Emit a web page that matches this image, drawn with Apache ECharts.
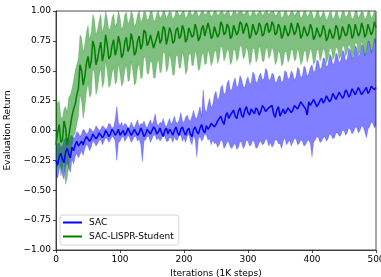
<!DOCTYPE html>
<html>
<head>
<meta charset="utf-8">
<script src="https://cdn.jsdelivr.net/npm/echarts@6/dist/echarts.min.js"></script>
<style>
html,body{margin:0;padding:0;background:#fff;}
#chart{width:381px;height:277px;}
</style>
</head>
<body>
<div id="chart"></div>
<script>
// Iterations (1K steps)
var iterations = [
0,2.5,5,7.5,10,12.5,15,17.5,20,22.5,
25,27.5,30,32.5,35,37.5,40,42.5,45,47.5,
50,52.5,55,57.5,60,62.5,65,67.5,70,72.5,
75,77.5,80,82.5,85,87.5,90,92.5,95,97.5,
100,102.5,105,107.5,110,112.5,115,117.5,120,122.5,
125,127.5,130,132.5,135,137.5,140,142.5,145,147.5,
150,152.5,155,157.5,160,162.5,165,167.5,170,172.5,
175,177.5,180,182.5,185,187.5,190,192.5,195,197.5,
200,202.5,205,207.5,210,212.5,215,217.5,220,222.5,
225,227.5,230,232.5,235,237.5,240,242.5,245,247.5,
250,252.5,255,257.5,260,262.5,265,267.5,270,272.5,
275,277.5,280,282.5,285,287.5,290,292.5,295,297.5,
300,302.5,305,307.5,310,312.5,315,317.5,320,322.5,
325,327.5,330,332.5,335,337.5,340,342.5,345,347.5,
350,352.5,355,357.5,360,362.5,365,367.5,370,372.5,
375,377.5,380,382.5,385,387.5,390,392.5,395,397.5,
400,402.5,405,407.5,410,412.5,415,417.5,420,422.5,
425,427.5,430,432.5,435,437.5,440,442.5,445,447.5,
450,452.5,455,457.5,460,462.5,465,467.5,470,472.5,
475,477.5,480,482.5,485,487.5,490,492.5,495,497.5,
500];

var sacMean = [
-0.25,-0.29,-0.22,-0.19,-0.24,-0.27,-0.18,-0.15,-0.20,-0.23,
-0.14,-0.17,-0.12,-0.09,-0.13,-0.11,-0.09,-0.12,-0.08,-0.05,
-0.06,-0.09,-0.07,-0.03,-0.04,-0.07,-0.05,-0.02,-0.03,-0.06,
-0.04,0.00,-0.02,-0.05,-0.03,0.01,-0.01,-0.04,-0.02,0.01,
-0.04,-0.02,0.00,-0.04,-0.02,0.02,-0.01,-0.04,-0.03,0.01,
0.00,-0.04,-0.02,0.02,-0.01,-0.05,-0.03,0.01,0.00,-0.03,
-0.02,0.03,0.01,-0.03,-0.01,0.02,-0.02,-0.05,0.00,0.02,
-0.03,0.01,-0.01,-0.04,0.00,0.03,-0.02,-0.04,0.01,0.03,
-0.01,-0.04,0.00,0.02,-0.03,-0.05,0.01,0.03,-0.01,-0.03,
0.02,0.05,0.00,-0.02,0.04,0.01,0.03,0.06,0.07,0.03,
0.05,0.08,0.09,0.12,0.08,0.05,0.12,0.15,0.10,0.13,
0.14,0.17,0.12,0.10,0.16,0.19,0.13,0.11,0.17,0.20,
0.15,0.13,0.18,0.16,0.14,0.19,0.17,0.13,0.16,0.21,
0.19,0.16,0.15,0.19,0.18,0.21,0.14,0.11,0.17,0.20,
0.12,0.15,0.18,0.14,0.16,0.19,0.20,0.15,0.17,0.21,
0.22,0.18,0.19,0.24,0.23,0.20,0.18,0.13,0.24,0.21,
0.21,0.26,0.25,0.20,0.22,0.25,0.27,0.23,0.25,0.29,
0.28,0.24,0.26,0.31,0.30,0.26,0.27,0.32,0.31,0.27,
0.29,0.34,0.32,0.28,0.30,0.35,0.34,0.30,0.31,0.36,
0.33,0.30,0.29,0.34,0.36,0.31,0.33,0.37,0.38,0.34,
0.36];
var sacLower = [
-0.36,-0.40,-0.33,-0.29,-0.37,-0.41,-0.30,-0.27,-0.32,-0.35,
-0.24,-0.28,-0.22,-0.19,-0.23,-0.20,-0.17,-0.21,-0.15,-0.12,
-0.13,-0.17,-0.14,-0.09,-0.10,-0.13,-0.11,-0.08,-0.08,-0.12,
-0.09,-0.06,-0.07,-0.10,-0.08,-0.05,-0.06,-0.09,-0.25,-0.10,
-0.09,-0.06,-0.05,-0.09,-0.07,-0.04,-0.06,-0.10,-0.08,-0.05,
-0.05,-0.09,-0.07,-0.12,-0.26,-0.09,-0.08,-0.05,-0.05,-0.10,
-0.07,-0.04,-0.04,-0.08,-0.06,-0.09,-0.07,-0.04,-0.05,-0.09,
-0.09,-0.06,-0.06,-0.10,-0.05,-0.08,-0.08,-0.04,-0.04,-0.09,
-0.06,-0.10,-0.05,-0.03,-0.09,-0.12,-0.04,-0.08,-0.22,-0.07,
-0.05,-0.09,-0.07,-0.03,-0.04,-0.08,-0.07,-0.12,-0.08,-0.11,
-0.10,-0.14,-0.12,-0.08,-0.09,-0.15,-0.13,-0.09,-0.10,-0.14,
-0.15,-0.12,-0.11,-0.16,-0.14,-0.09,-0.10,-0.15,-0.13,-0.08,
-0.09,-0.13,-0.12,-0.08,-0.10,-0.15,-0.14,-0.10,-0.09,-0.12,
-0.11,-0.07,-0.08,-0.13,-0.10,-0.14,-0.12,-0.08,-0.08,-0.11,
-0.11,-0.15,-0.09,-0.06,-0.12,-0.10,-0.08,-0.13,-0.10,-0.07,
-0.07,-0.12,-0.11,-0.08,-0.09,-0.13,-0.12,-0.09,-0.08,-0.11,
-0.22,-0.10,-0.08,-0.05,-0.06,-0.10,-0.09,-0.06,-0.05,-0.09,
-0.07,-0.03,-0.04,-0.07,-0.06,-0.02,-0.02,-0.05,-0.04,0.00,
0.00,-0.04,-0.02,0.02,0.01,-0.03,-0.01,0.03,0.02,-0.02,
0.00,0.04,0.03,-0.01,-0.06,0.01,0.03,0.07,0.06,0.02,
0.04];
var sacUpper = [
-0.15,-0.11,-0.10,-0.14,-0.13,-0.08,-0.06,-0.10,-0.09,-0.05,
-0.04,-0.07,-0.05,-0.01,-0.02,-0.05,-0.03,0.01,0.00,-0.03,
-0.02,0.02,0.01,-0.01,0.00,0.04,0.02,0.00,0.01,0.04,
0.03,0.01,0.02,0.06,0.05,0.02,0.03,0.09,0.20,0.07,
0.04,0.07,0.03,0.06,0.05,0.02,0.03,0.07,0.04,0.02,
0.06,0.09,0.03,0.06,0.05,0.08,0.04,0.02,0.06,0.09,
0.05,0.08,0.14,0.06,0.04,0.07,0.06,0.10,0.05,0.03,
0.07,0.10,0.05,0.08,0.12,0.07,0.06,0.09,0.15,0.08,
0.07,0.11,0.13,0.09,0.08,0.12,0.17,0.11,0.10,0.15,
0.20,0.12,0.34,0.18,0.15,0.22,0.27,0.19,0.22,0.30,
0.33,0.25,0.28,0.36,0.38,0.30,0.32,0.40,0.42,0.33,
0.35,0.41,0.44,0.36,0.38,0.46,0.43,0.37,0.36,0.42,
0.45,0.39,0.40,0.49,0.47,0.40,0.41,0.46,0.48,0.42,
0.44,0.52,0.50,0.42,0.43,0.48,0.47,0.40,0.41,0.45,
0.46,0.40,0.42,0.50,0.49,0.43,0.44,0.50,0.48,0.42,
0.45,0.53,0.51,0.44,0.46,0.54,0.52,0.45,0.48,0.53,
0.55,0.49,0.50,0.59,0.58,0.51,0.53,0.61,0.60,0.53,
0.55,0.64,0.62,0.55,0.57,0.65,0.63,0.56,0.59,0.67,
0.66,0.58,0.60,0.69,0.67,0.60,0.62,0.71,0.69,0.62,
0.64,0.72,0.71,0.63,0.66,0.75,0.74,0.66,0.68,0.77,
0.76];

var lisprMean = [
-0.12,-0.02,0.05,-0.10,-0.08,0.08,0.02,-0.12,-0.05,0.04,
0.12,0.18,0.22,0.30,0.35,0.55,0.50,0.38,0.45,0.56,
0.62,0.52,0.58,0.75,0.70,0.55,0.60,0.68,0.74,0.58,
0.65,0.80,0.72,0.60,0.62,0.71,0.76,0.63,0.68,0.79,
0.73,0.61,0.64,0.74,0.78,0.66,0.70,0.81,0.75,0.63,
0.66,0.75,0.79,0.68,0.72,0.84,0.82,0.71,0.74,0.80,
0.80,0.69,0.70,0.78,0.83,0.73,0.76,0.87,0.85,0.72,
0.78,0.86,0.82,0.73,0.75,0.84,0.86,0.77,0.79,0.88,
0.84,0.74,0.77,0.86,0.87,0.78,0.80,0.89,0.84,0.75,
0.78,0.85,0.88,0.79,0.80,0.90,0.85,0.77,0.79,0.87,
0.86,0.78,0.81,0.91,0.88,0.80,0.82,0.89,0.86,0.77,
0.79,0.88,0.87,0.80,0.83,0.91,0.89,0.81,0.82,0.90,
0.86,0.77,0.80,0.89,0.88,0.80,0.83,0.90,0.87,0.79,
0.81,0.88,0.90,0.82,0.84,0.91,0.88,0.80,0.82,0.89,
0.86,0.77,0.80,0.88,0.87,0.79,0.82,0.90,0.89,0.80,
0.83,0.90,0.86,0.77,0.80,0.87,0.88,0.79,0.82,0.89,
0.85,0.76,0.79,0.86,0.87,0.78,0.81,0.88,0.84,0.75,
0.78,0.85,0.86,0.77,0.80,0.88,0.85,0.76,0.79,0.87,
0.87,0.79,0.81,0.89,0.86,0.77,0.80,0.89,0.88,0.79,
0.82,0.90,0.86,0.78,0.81,0.89,0.88,0.80,0.83,0.91,
0.86];
var lisprLower = [
-0.35,-0.30,-0.20,-0.38,-0.32,-0.22,-0.45,-0.40,-0.30,-0.18,
-0.12,-0.05,-0.02,0.05,0.12,0.30,0.25,0.10,0.18,0.32,
0.40,0.28,0.30,0.52,0.48,0.30,0.35,0.46,0.52,0.36,
0.40,0.58,0.50,0.36,0.38,0.48,0.53,0.39,0.41,0.56,
0.48,0.37,0.40,0.50,0.55,0.41,0.42,0.58,0.50,0.38,
0.40,0.52,0.56,0.43,0.45,0.62,0.60,0.47,0.48,0.58,
0.57,0.44,0.44,0.55,0.60,0.48,0.50,0.66,0.64,0.49,
0.52,0.64,0.58,0.46,0.47,0.62,0.63,0.52,0.53,0.66,
0.60,0.47,0.50,0.63,0.65,0.54,0.55,0.67,0.62,0.50,
0.52,0.62,0.66,0.55,0.56,0.68,0.63,0.54,0.58,0.66,
0.67,0.56,0.60,0.70,0.69,0.58,0.62,0.68,0.66,0.55,
0.58,0.68,0.67,0.58,0.61,0.71,0.70,0.60,0.62,0.70,
0.66,0.55,0.58,0.69,0.68,0.57,0.60,0.71,0.67,0.58,
0.58,0.67,0.70,0.60,0.63,0.70,0.66,0.55,0.58,0.67,
0.64,0.54,0.56,0.66,0.66,0.57,0.60,0.68,0.67,0.58,
0.60,0.69,0.64,0.55,0.58,0.66,0.67,0.57,0.62,0.69,
0.65,0.55,0.58,0.67,0.68,0.58,0.62,0.69,0.66,0.56,
0.60,0.68,0.69,0.59,0.62,0.70,0.68,0.60,0.62,0.70,
0.71,0.62,0.65,0.72,0.70,0.60,0.64,0.73,0.73,0.63,
0.66,0.75,0.71,0.62,0.66,0.74,0.74,0.64,0.68,0.76,
0.72];
var lisprUpper = [
0.30,0.22,0.25,0.12,0.10,0.18,0.20,0.15,0.28,0.30,
0.35,0.42,0.50,0.55,0.60,0.80,0.78,0.65,0.72,0.82,
0.88,0.76,0.82,0.97,0.93,0.80,0.85,0.92,0.97,0.82,
0.88,1.00,0.94,0.84,0.86,0.94,0.98,0.87,0.90,1.00,
0.95,0.84,0.88,0.97,0.99,0.89,0.92,1.00,0.97,0.87,
0.90,0.97,1.00,0.91,0.93,1.00,0.99,0.92,0.94,1.00,
1.00,0.92,0.92,0.98,1.00,0.94,0.96,1.00,1.00,0.93,
0.97,1.00,0.99,0.93,0.95,1.00,1.00,0.96,0.97,1.00,
1.00,0.94,0.96,1.00,1.00,0.96,0.98,1.00,1.00,0.95,
0.97,1.00,1.00,0.97,0.98,1.00,1.00,0.95,0.97,1.00,
1.00,0.96,0.98,1.00,1.00,0.97,0.98,1.00,1.00,0.95,
0.97,1.00,1.00,0.97,0.99,1.00,1.00,0.97,0.98,1.00,
1.00,0.95,0.97,1.00,1.00,0.96,0.98,1.00,1.00,0.96,
0.98,1.00,1.00,0.97,0.99,1.00,1.00,0.96,0.97,1.00,
1.00,0.94,0.96,1.00,1.00,0.95,0.97,1.00,1.00,0.96,
0.98,1.00,1.00,0.94,0.96,1.00,1.00,0.95,0.97,1.00,
0.99,0.93,0.95,1.00,1.00,0.94,0.96,1.00,0.98,0.92,
0.95,0.99,1.00,0.93,0.95,1.00,0.99,0.93,0.95,1.00,
1.00,0.95,0.96,1.00,0.99,0.93,0.95,1.00,1.00,0.94,
0.97,1.00,0.99,0.93,0.95,1.00,1.00,0.94,0.96,1.00,
0.97];

var xTicks = [0,100,200,300,400,500];
var yTicks = [-1.00,-0.75,-0.50,-0.25,0.00,0.25,0.50,0.75,1.00];

var N = Math.min(iterations.length, sacMean.length, sacLower.length, sacUpper.length,
                 lisprMean.length, lisprLower.length, lisprUpper.length);
function pairs(ys){ var out=[]; for (var i=0;i<N;i++) out.push([iterations[i], ys[i]]); return out; }
function bandData(lo, hi){ var out=[]; for (var i=0;i<N;i++) out.push([iterations[i], lo[i], hi[i]]); return out; }

var FONT = 'DejaVu Sans';
var chart = echarts.init(document.getElementById('chart'), null, {renderer:'canvas'});

function bandSeries(name, lo, hi, fill, edge){
  var data = bandData(lo, hi);
  return {
    name: name, type:'custom', silent:true, clip:true,
    data: data,
    encode:{x:0, y:[1,2]},
    renderItem: function(params, api){
      if (params.dataIndex !== 0) return null;
      var top = [], bot = [];
      for (var i = 0; i < data.length; i++) {
        top.push(api.coord([data[i][0], data[i][2]]));
        bot.push(api.coord([data[i][0], data[i][1]]));
      }
      var pts = top.concat(bot.reverse());
      return {type:'polygon', shape:{points:pts},
        style:{fill:fill, stroke:edge, lineWidth:0.8}};
    }
  };
}

var series = [];
series.push(bandSeries('sacband', sacLower, sacUpper, 'rgba(0,0,255,0.5)', 'rgba(0,0,255,0.25)'));
series.push({name:'SAC', type:'line', data: pairs(sacMean), showSymbol:false, symbol:'none',
  lineStyle:{color:'#0000ff', width:1.5}, itemStyle:{color:'#0000ff'}});
series.push(bandSeries('lband', lisprLower, lisprUpper, 'rgba(0,128,0,0.5)', 'rgba(0,128,0,0.25)'));
series.push({name:'SAC-LISPR-Student', type:'line', data: pairs(lisprMean), showSymbol:false, symbol:'none',
  lineStyle:{color:'#008000', width:1.5}, itemStyle:{color:'#008000'}});

var option = {
  animation:false,
  backgroundColor:'#ffffff',
  grid:{left:56, right:5, top:11, bottom:27, containLabel:false, outerBoundsMode:'none',
    show:true, borderColor:'#222', borderWidth:0.8, backgroundColor:'transparent'},
  xAxis:{type:'value', min:xTicks[0], max:xTicks[xTicks.length-1], interval:100,
    name:'Iterations (1K steps)', nameLocation:'middle', nameGap:15,
    nameTextStyle:{fontFamily:FONT, fontSize:9, color:'#000'},
    axisLine:{show:true, onZero:false, lineStyle:{color:'#222', width:0.8}},
    axisTick:{show:true, inside:false, length:3, lineStyle:{color:'#222', width:0.8}},
    axisLabel:{fontFamily:FONT, fontSize:9, color:'#000', margin:5},
    splitLine:{show:false}},
  yAxis:{type:'value', min:yTicks[0], max:yTicks[yTicks.length-1], interval:0.25,
    name:'Evaluation Return', nameLocation:'middle', nameGap:44, nameRotate:90,
    nameTextStyle:{fontFamily:FONT, fontSize:9, color:'#000'},
    axisLine:{show:true, onZero:false, lineStyle:{color:'#222', width:0.8}},
    axisTick:{show:true, inside:false, length:3, lineStyle:{color:'#222', width:0.8}},
    axisLabel:{fontFamily:FONT, fontSize:9, color:'#000', margin:5,
      formatter:function(v){ return v.toFixed(2).replace('-', '\u2212'); }},
    splitLine:{show:false}},
  legend:{
    data:[{name:'SAC', icon:'rect'},{name:'SAC-LISPR-Student', icon:'rect'}],
    orient:'vertical', left:60, top:215,
    itemWidth:19, itemHeight:2, itemGap:3,
    padding:[2,5,3,3],
    backgroundColor:'rgba(255,255,255,0.8)', borderColor:'#cccccc', borderWidth:0.8, borderRadius:3,
    textStyle:{fontFamily:FONT, fontSize:9, color:'#000', lineHeight:11, padding:[0,0,0,2]}
  },
  series: series
};
chart.setOption(option);
</script>
</body>
</html>
